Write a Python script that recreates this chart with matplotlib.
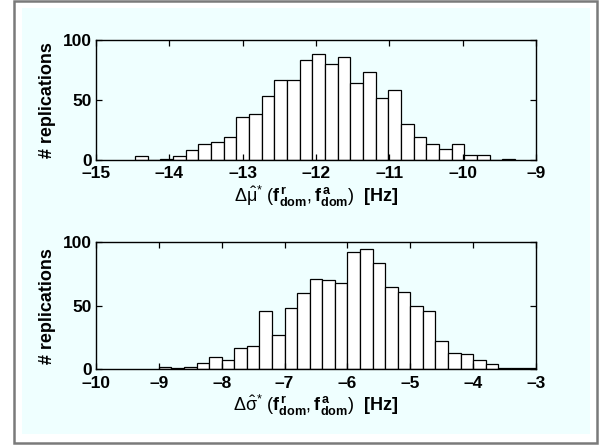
import numpy as np
import matplotlib
matplotlib.use('Agg')
import matplotlib.pyplot as plt
from matplotlib.patches import Rectangle

##########################################################
# histogram counts (1000 replications each)
##########################################################
#
mu_lo, mu_hi = -14.468, -9.286 # first and last bin edge, top panel
mu_counts = [3, 0, 1, 3, 8, 13, 15, 19, 36, 38, 53, 67, 67, 83, 88,
             80, 86, 64, 73, 52, 58, 30, 19, 13, 9, 13, 4, 4, 0, 1]
sig_lo, sig_hi = -9.0, -3.0 # first and last bin edge, bottom panel
sig_counts = [2, 1, 2, 5, 10, 7, 17, 18, 46, 27, 48, 60, 71, 70, 68,
              92, 95, 84, 65, 61, 50, 46, 22, 13, 12, 7, 4, 1, 1, 1]

mu_xlim, mu_xticks = (-15, -9), [-15, -14, -13, -12, -11, -10, -9]
sig_xlim, sig_xticks = (-10, -3), [-10, -9, -8, -7, -6, -5, -4, -3]
yticks = [0, 50, 100]

mu_label = r'$\Delta\hat{\mu}^{*}\ (\mathbf{f}^{\,\mathbf{r}}_{\mathbf{dom}},\mathbf{f}^{\,\mathbf{a}}_{\mathbf{dom}})\ \ \mathbf{[Hz]}$'
sig_label = r'$\Delta\hat{\sigma}^{*}\ (\mathbf{f}^{\,\mathbf{r}}_{\mathbf{dom}},\mathbf{f}^{\,\mathbf{a}}_{\mathbf{dom}})\ \ \mathbf{[Hz]}$'

plt.rcParams['font.family'] = ['Liberation Sans', 'DejaVu Sans']
plt.rcParams['font.weight'] = 'bold'
plt.rcParams['mathtext.fontset'] = 'custom'
plt.rcParams['mathtext.rm'] = 'Liberation Sans:normal'
plt.rcParams['mathtext.bf'] = 'Liberation Sans:bold'
plt.rcParams['mathtext.it'] = 'Liberation Sans:normal'

bg = '#efffff'

W, H = 602, 446
fig = plt.figure(figsize=(W/100, H/100), dpi=100)
fig.patch.set_facecolor('white')

# window frame and cyan panel (pixel coords -> figure fraction)
def px_rect(x0, y0, x1, y1, **kw):
    return Rectangle((x0/W, 1-y1/H), (x1-x0)/W, (y1-y0)/H,
                     transform=fig.transFigure, **kw)

fig.patches.append(px_rect(13.5, 1, 597, 443, facecolor='white',
                           edgecolor='#7a7a7a', lw=1.8, zorder=-2))
fig.patches.append(px_rect(22, 8, 590, 434, facecolor=bg,
                           edgecolor='none', zorder=-1))

def draw_hist(ax, lo, hi, counts, xlim, xticks, xlabel):
    edges = np.linspace(lo, hi, len(counts)+1)
    ax.bar(edges[:-1], counts, width=np.diff(edges), align='edge',
           color='white', edgecolor='black', linewidth=0.9)
    ax.set_xlim(xlim)
    ax.set_ylim(0, 100)
    ax.set_xticks(xticks)
    ax.set_xticklabels(['\u2013%d' % abs(t) for t in xticks])
    ax.set_yticks(yticks)
    ax.set_facecolor(bg)
    ax.set_zorder(2)
    ax.tick_params(direction='in', top=True, right=True, length=4,
                   width=0.9, labelsize=12.5)
    ax.tick_params(axis='x', pad=4.5)
    ax.tick_params(axis='y', pad=3)
    for s in ax.spines.values():
        s.set_linewidth(1.0)
    ax.set_ylabel('# replications', fontsize=13, fontweight='bold', labelpad=5)
    ax.set_xlabel(xlabel, fontsize=13, labelpad=2)

ax1 = fig.add_axes([96/W, 1-160/H, 440/W, 120/H])
draw_hist(ax1, mu_lo, mu_hi, mu_counts, mu_xlim, mu_xticks, mu_label)

ax2 = fig.add_axes([96/W, 1-369.3/H, 440/W, 127/H])
draw_hist(ax2, sig_lo, sig_hi, sig_counts, sig_xlim, sig_xticks, sig_label)

fig.savefig('out.png', dpi=100, facecolor=fig.get_facecolor())
